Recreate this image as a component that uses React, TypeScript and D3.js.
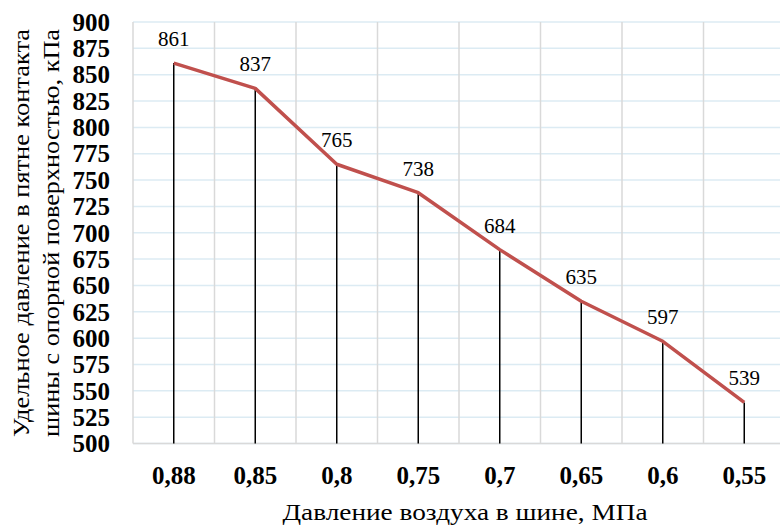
import React from "react";
import * as d3 from "d3";

const categories: string[] = ["0,88", "0,85", "0,8", "0,75", "0,7", "0,65", "0,6", "0,55"];
const values: number[] = [861, 837, 765, 738, 684, 635, 597, 539];
const yTicks: number[] = d3.range(500, 901, 25);

const W = 780;
const H = 526;
const left = 133;
const bandW = 81.5;
const top = 22;
const bottom = 443.5;

const serif = "Liberation Serif, Times New Roman, Tinos, Times, DejaVu Serif, serif";

export default function App() {
  const x = d3
    .scaleBand<string>()
    .domain(categories)
    .range([left, left + bandW * categories.length])
    .paddingInner(0)
    .paddingOuter(0);
  const y = d3.scaleLinear().domain([500, 900]).range([bottom, top]);
  const cx = (c: string) => (x(c) as number) + x.bandwidth() / 2;
  const line = d3
    .line<number>()
    .x((_, i) => cx(categories[i]))
    .y((d) => y(d));

  const ts = { fontFamily: serif };

  return (
    <svg
      width={W}
      height={H}
      style={{ position: "absolute", left: 0, top: 0, background: "#fff", fontFamily: serif }}
    >
      <rect x={0} y={0} width={W} height={H} fill="#fff" />
      {yTicks.map((t) => (
        <line key={"h" + t} x1={left} x2={W} y1={y(t)} y2={y(t)} stroke="#dcebf3" strokeWidth={1.5} />
      ))}
      {categories.map((c) => (
        <line
          key={"v" + c}
          x1={x(c) as number}
          x2={x(c) as number}
          y1={top}
          y2={bottom}
          stroke="#d9d9d9"
          strokeWidth={1.5}
        />
      ))}
      <line x1={left} x2={W} y1={bottom} y2={bottom} stroke="#d9d9d9" strokeWidth={1.5} />
      {values.map((v, i) => (
        <line
          key={"d" + i}
          x1={cx(categories[i])}
          x2={cx(categories[i])}
          y1={y(v)}
          y2={bottom}
          stroke="#000"
          strokeWidth={1.5}
        />
      ))}
      <path d={line(values) || ""} fill="none" stroke="#c0504d" strokeWidth={3.5} strokeLinejoin="round" />
      {values.map((v, i) => (
        <text key={"l" + i} x={cx(categories[i])} y={y(v) - 17} textAnchor="middle" fontSize={21} fill="#000" style={ts}>
          {v}
        </text>
      ))}
      {yTicks.map((t) => (
        <text
          key={"yt" + t}
          x={110}
          y={y(t)}
          dy="0.35em"
          textAnchor="end"
          fontSize={25}
          fontWeight="bold"
          fill="#000"
          style={ts}
        >
          {t}
        </text>
      ))}
      {categories.map((c) => (
        <text key={"xt" + c} x={cx(c)} y={484} textAnchor="middle" fontSize={25} fontWeight="bold" fill="#000" style={ts}>
          {c}
        </text>
      ))}
      <text
        x={465}
        y={520}
        textAnchor="middle"
        fontSize={24}
        fill="#000"
        style={ts}
        textLength={365}
        lengthAdjust="spacingAndGlyphs"
      >
        Давление воздуха в шине, МПа
      </text>
      <g transform="translate(0,233) rotate(-90)">
        <text
          x={0}
          y={29}
          textAnchor="middle"
          fontSize={24}
          fill="#000"
          style={ts}
          textLength={408}
          lengthAdjust="spacingAndGlyphs"
        >
          Удельное давление в пятне контакта
        </text>
        <text
          x={0}
          y={59}
          textAnchor="middle"
          fontSize={24}
          fill="#000"
          style={ts}
          textLength={408}
          lengthAdjust="spacingAndGlyphs"
        >
          шины с опорной поверхностью, кПа
        </text>
      </g>
    </svg>
  );
}
